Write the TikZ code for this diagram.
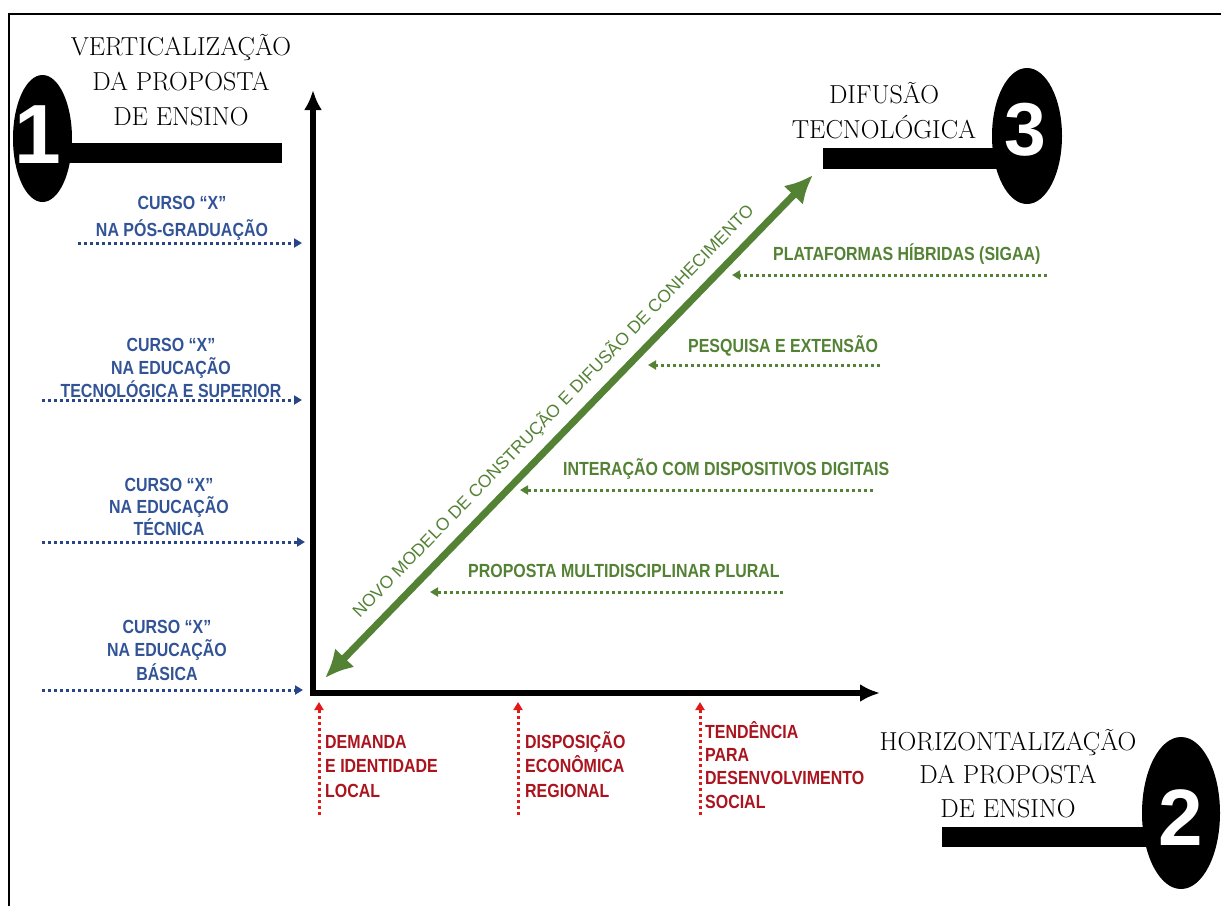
\documentclass[tikz,border=0pt]{standalone}
\usepackage{fontspec}
\setsansfont{Liberation Sans}
\newfontfamily\narrowsans{Liberation Sans}[FakeStretch=0.84]
\usetikzlibrary{shapes, arrows.meta}

\definecolor{cursoblue}{RGB}{50,84,150}
\definecolor{arrowblue}{RGB}{40,70,135}
\definecolor{localred}{RGB}{170,20,30}
\definecolor{arrowred}{RGB}{225,25,25}
\definecolor{difgreen}{RGB}{84,130,53}

\begin{document}
\begin{tikzpicture}[x=1pt, y=-1pt]
    \tikzstyle{badge} = [ellipse, fill=black, inner sep=0pt]
    \tikzstyle{digit} = [text=white, inner sep=0pt, font=\sffamily\bfseries]
    \tikzstyle{title} = [align=center, anchor=base, inner sep=0pt, font=\fontsize{26}{35}\selectfont\addfontfeature{FakeStretch=0.85,FakeBold=0.8}]
    \tikzstyle{curso} = [align=center, anchor=base, text=cursoblue, inner sep=0pt, font=\narrowsans\bfseries\fontsize{19}{23}\selectfont]
    \tikzstyle{local} = [align=left, anchor=base west, text=localred, inner sep=0pt, font=\narrowsans\bfseries\fontsize{19}{24.5}\selectfont]
    \tikzstyle{eixo} = [anchor=base west, text=difgreen, inner sep=0pt, font=\narrowsans\bfseries\fontsize{19}{23}\selectfont]
    \tikzstyle{bar} = [line width=20pt]
    \tikzstyle{axis} = [line width=6pt, <->, >={Latex[length=20pt,width=18pt]}]
    \tikzstyle{model} = [difgreen, line width=7pt, <->, >={Latex[length=28pt,width=27pt]}]
    \tikzstyle{dots} = [line width=3pt, dash pattern=on 3pt off 3pt, ->, >={Triangle[length=8pt,width=9pt]}]

    \useasboundingbox (0,0) rectangle (1221,906);

    % Frame
    \coordinate (framebl) at (9,906);
    \coordinate (frametl) at (9,14);
    \coordinate (frametr) at (1221,14);
    \draw[line width=2.5pt] (framebl) -- (frametl) -- (frametr);

    % Badges
    \node (one) [badge, minimum width=59pt, minimum height=127pt] at (42.5,138.5) {};
    \node (three) [badge, minimum width=70pt, minimum height=136pt] at (1027,136) {};
    \node (two) [badge, minimum width=78pt, minimum height=152pt] at (1181,813) {};
    \coordinate (onebar) at (282,152.5);
    \coordinate (threebar) at (823,158.5);
    \coordinate (twobar) at (942,837);
    \draw[bar] (onebar) -- (onebar -| one.center);
    \draw[bar, line width=21pt] (threebar) -- (threebar -| three.center);
    \draw[bar] (twobar) -- (twobar -| two.center);
    \node (onedigit) [digit, font=\sffamily\bfseries\fontsize{84}{84}\selectfont] at (38,135) {1};
    \node (threedigit) [digit, font=\sffamily\bfseries\fontsize{75}{75}\selectfont] at (1025,130) {3};
    \node (twodigit) [digit, font=\sffamily\bfseries\fontsize{80}{80}\selectfont] at (1181,817.5) {2};

    % Titles
    \node (vert) [title] at (181,125) {VERTICALIZAÇÃO\\DA PROPOSTA\\DE ENSINO};
    \node (difusao) [title] at (884,138) {DIFUSÃO\\TECNOLÓGICA};
    \node (horiz) [title, font=\fontsize{26}{33.5}\selectfont\addfontfeature{FakeStretch=0.85,FakeBold=0.8}] at (1008,817) {HORIZONTALIZAÇÃO\\DA PROPOSTA\\DE ENSINO};

    % Courses
    \node (pos) [curso, font=\narrowsans\bfseries\fontsize{19}{27}\selectfont] at (182,236) {CURSO “X”\\NA PÓS-GRADUAÇÃO};
    \node (superior) [curso] at (171,397) {CURSO “X”\\NA EDUCAÇÃO\\TECNOLÓGICA E SUPERIOR};
    \node (tecnica) [curso, font=\narrowsans\bfseries\fontsize{19}{22}\selectfont] at (169,535) {CURSO “X”\\NA EDUCAÇÃO\\TÉCNICA};
    \node (basica) [curso, font=\narrowsans\bfseries\fontsize{19}{23.5}\selectfont] at (167,680) {CURSO “X”\\NA EDUCAÇÃO\\BÁSICA};

    % Local factors
    \node (demanda) [local] at (325,797) {DEMANDA\\E IDENTIDADE\\LOCAL};
    \node (economia) [local] at (525,797) {DISPOSIÇÃO\\ECONÔMICA\\REGIONAL};
    \node (tendencia) [local, font=\narrowsans\bfseries\fontsize{19}{23.3}\selectfont] at (705,808) {TENDÊNCIA\\PARA\\DESENVOLVIMENTO\\SOCIAL};

    % Diffusion
    \node (plataformas) [eixo] at (773,260) {PLATAFORMAS HÍBRIDAS (SIGAA)};
    \node (pesquisa) [eixo] at (688,352) {PESQUISA E EXTENSÃO};
    \node (interacao) [eixo] at (563,475) {INTERAÇÃO COM DISPOSITIVOS DIGITAIS};
    \node (proposta) [eixo] at (468,577) {PROPOSTA MULTIDISCIPLINAR PLURAL};

    % Arrows
    \coordinate (ytop) at (313,90);
    \coordinate (origin) at (313,693);
    \coordinate (xend) at (880,693);
    \draw[axis, line join=miter] (ytop) -- (origin) -- (xend);

    \coordinate (mlow) at (325,678);
    \coordinate (mhigh) at (813,175);
    \draw[model] (mlow) -- node (modeltxt) [sloped, above=9pt, inner sep=0pt, text=difgreen, font=\sffamily\fontsize{17.5}{20}\selectfont] {NOVO MODELO DE CONSTRUÇÃO E DIFUSÃO DE CONHECIMENTO} (mhigh);

    \coordinate (pos s) at (78,243);     \coordinate (pos e) at (302,243);
    \coordinate (sup s) at (42,400);     \coordinate (sup e) at (302,400);
    \coordinate (tec s) at (42,542);     \coordinate (tec e) at (305,542);
    \coordinate (bas s) at (42,690);     \coordinate (bas e) at (303,690);
    \draw[dots, arrowblue] (pos s) -- (pos e);
    \draw[dots, arrowblue] (sup s) -- (sup e);
    \draw[dots, arrowblue] (tec s) -- (tec e);
    \draw[dots, arrowblue] (bas s) -- (bas e);

    \coordinate (dem s) at (319,815);    \coordinate (dem e) at (319,702);
    \coordinate (eco s) at (518,815);    \coordinate (eco e) at (518,702);
    \coordinate (ten s) at (700,815);    \coordinate (ten e) at (700,702);
    \draw[dots, arrowred] (dem s) -- (dem e);
    \draw[dots, arrowred] (eco s) -- (eco e);
    \draw[dots, arrowred] (ten s) -- (ten e);

    \coordinate (pla s) at (1047,275);   \coordinate (pla e) at (732,275);
    \coordinate (pes s) at (880,365);    \coordinate (pes e) at (648,365);
    \coordinate (int s) at (873,490);    \coordinate (int e) at (520,490);
    \coordinate (pro s) at (783,592);    \coordinate (pro e) at (430,592);
    \draw[dots, difgreen] (pla s) -- (pla e);
    \draw[dots, difgreen] (pes s) -- (pes e);
    \draw[dots, difgreen] (int s) -- (int e);
    \draw[dots, difgreen] (pro s) -- (pro e);
\end{tikzpicture}
\end{document}
